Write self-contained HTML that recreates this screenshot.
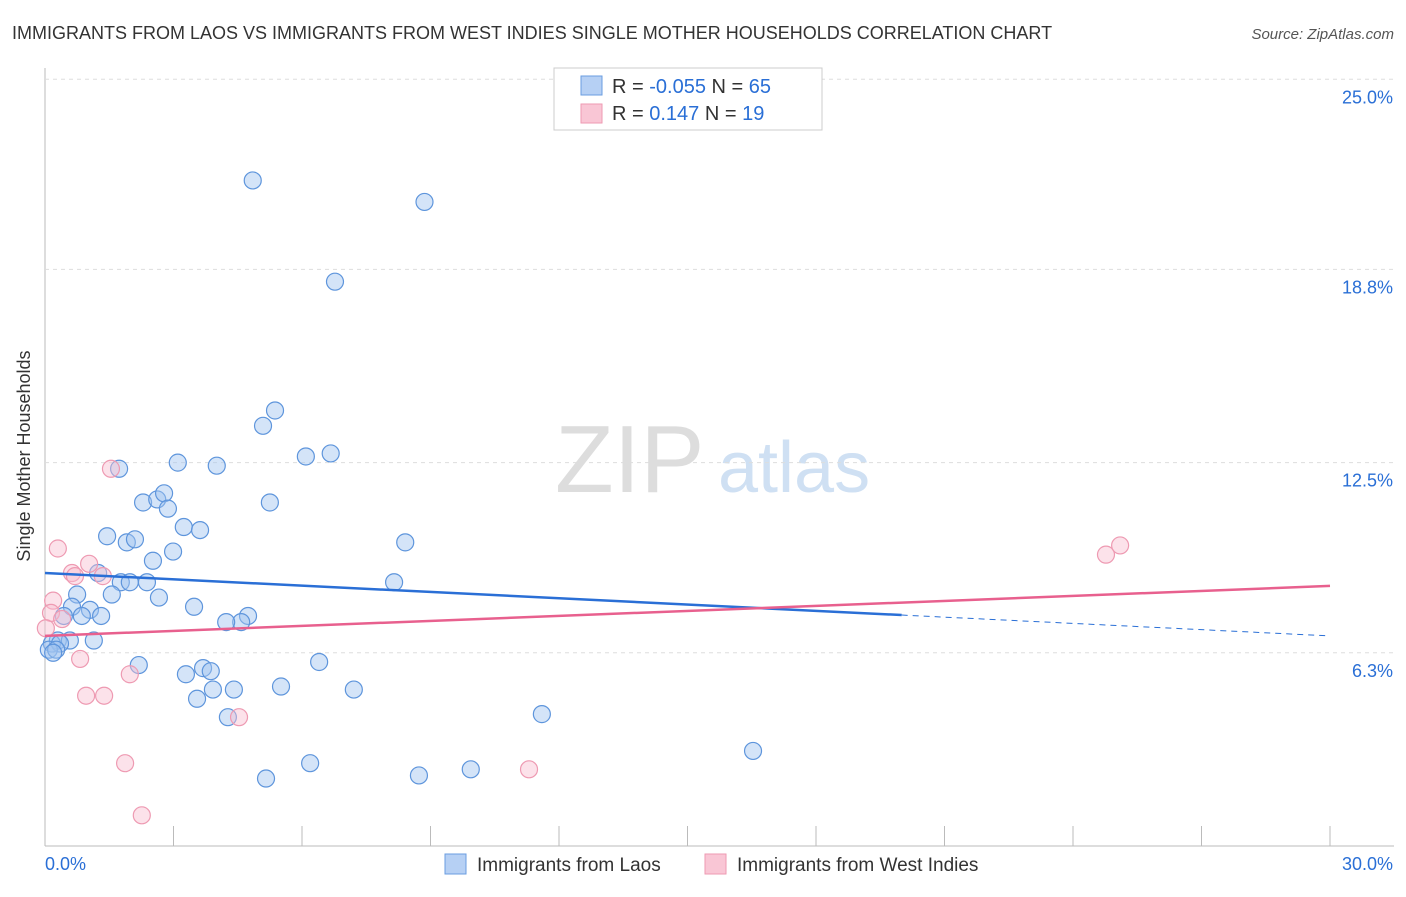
<!DOCTYPE html>
<html><head><meta charset="utf-8"><style>
body{margin:0;background:#fff;font-family:"Liberation Sans",sans-serif}
svg text{font-family:"Liberation Sans",sans-serif}
</style></head><body>
<svg id="chart" width="1406" height="892">
<text x="12" y="39" font-size="18" fill="#333">IMMIGRANTS FROM LAOS VS IMMIGRANTS FROM WEST INDIES SINGLE MOTHER HOUSEHOLDS CORRELATION CHART</text>
<text x="1394" y="39" font-size="15" fill="#555" text-anchor="end" font-style="italic">Source: ZipAtlas.com</text>
<text x="30" y="456" font-size="18" fill="#333" text-anchor="middle" transform="rotate(-90 30 456)">Single Mother Households</text>
<text x="555" y="492" font-size="96" fill="#ddd" font-family="Liberation Serif">ZIP</text>
<text x="718" y="492" font-size="72" fill="#cfe0f3">atlas</text>
<g id="grid"></g><g id="pts"></g><g id="lines"></g>
<g>
<rect x="554" y="68" width="268" height="62" fill="#fff" stroke="#ccc"/>
<rect x="581" y="76" width="21" height="19" fill="#b6d0f4" stroke="#6a9de0"/>
<rect x="581" y="104" width="21" height="19" fill="#f9c6d5" stroke="#ee9ab2"/>
<text x="612" y="93" font-size="20" fill="#333">R = <tspan fill="#2a6fd6">-0.055</tspan>   N = <tspan fill="#2a6fd6">65</tspan></text>
<text x="612" y="120" font-size="20" fill="#333">R =    <tspan fill="#2a6fd6">0.147</tspan>   N =  <tspan fill="#2a6fd6">19</tspan></text>
</g>
<g>
<rect x="445" y="854" width="21" height="20" fill="#b6d0f4" stroke="#6a9de0"/>
<text x="477" y="871" font-size="19" fill="#333">Immigrants from Laos</text>
<rect x="705" y="854" width="21" height="20" fill="#f9c6d5" stroke="#ee9ab2"/>
<text x="737" y="871" font-size="19" fill="#333">Immigrants from West Indies</text>
</g>
</svg>
<script>
const yTicks=[25.0,18.8,12.5,6.3];
const yTickLabels=["25.0%","18.8%","12.5%","6.3%"];
const xTickLabels=["0.0%","30.0%"];
const laosX=[4.85,8.86,6.77,5.37,5.09,6.09,6.67,3.10,4.01,1.73,5.25,2.29,2.62,2.78,2.87,3.24,3.62,1.45,1.91,2.10,8.41,2.99,2.52,1.24,1.77,1.98,2.38,8.15,1.56,2.66,0.75,3.48,1.05,0.63,0.44,1.31,0.86,4.74,4.58,4.23,0.30,0.58,1.14,0.16,0.35,0.09,0.26,0.19,2.19,6.40,3.29,3.69,3.87,5.51,3.92,4.41,7.21,3.55,4.27,11.60,16.53,6.19,5.16,8.73,9.94];
const laosY=[21.7,21.0,18.4,14.2,13.7,12.7,12.8,12.5,12.4,12.3,11.2,11.2,11.3,11.5,11.0,10.4,10.3,10.1,9.9,10.0,9.9,9.6,9.3,8.9,8.6,8.6,8.6,8.6,8.2,8.1,8.2,7.8,7.7,7.8,7.5,7.5,7.5,7.5,7.3,7.3,6.7,6.7,6.7,6.6,6.6,6.4,6.4,6.3,5.9,6.0,5.6,5.8,5.7,5.2,5.1,5.1,5.1,4.8,4.2,4.3,3.1,2.7,2.2,2.3,2.5];
const wiX=[1.54,0.30,1.03,0.63,0.70,1.35,0.19,0.14,0.40,0.02,0.82,1.98,0.96,1.38,4.53,1.87,11.30,2.26,24.77,25.10];
const wiY=[12.3,9.7,9.2,8.9,8.8,8.8,8.0,7.6,7.4,7.1,6.1,5.6,4.9,4.9,4.2,2.7,2.5,1.0,9.5,9.8];
const laosLine=[[0,8.9],[20.0,7.53]];
const laosDash=[[20.0,7.53],[30,6.85]];
const wiLine=[[0,6.85],[30,8.48]];
const X=v=>45+v/30*1285, Y=v=>846-v*30.67;
const NS="http://www.w3.org/2000/svg";
function mk(t,a,p){const e=document.createElementNS(NS,t);for(const k in a)e.setAttribute(k,a[k]);p.appendChild(e);return e;}
const grid=document.getElementById('grid');
mk('line',{x1:45,y1:68,x2:45,y2:846,stroke:'#bbb'},grid);
mk('line',{x1:45,y1:846,x2:1394,y2:846,stroke:'#bbb'},grid);
yTicks.forEach((t,i)=>{
 const l=mk('line',{x1:45,y1:Y(t),x2:1394,y2:Y(t),stroke:'#ddd','stroke-dasharray':'4,4'},grid);
 
 
 const tx=mk('text',{x:1393,y:Y(t)+24,'font-size':18,fill:'#2a6fd6','text-anchor':'end'},grid);
 tx.textContent=yTickLabels[i];
 
 
});
for(let i=1;i<=10;i++){const x=45+i*128.5;mk('line',{x1:x,y1:826,x2:x,y2:846,stroke:'#bbb'},grid);}
[[45,'start'],[1393,'end']].forEach((p,i)=>{
 const tx=mk('text',{x:p[0],y:870,'font-size':18,fill:'#2a6fd6','text-anchor':p[1]},grid);
 tx.textContent=xTickLabels[i];
 
 
});
const pts=document.getElementById('pts');
laosX.forEach((v,i)=>{
 const c=mk('circle',{cx:X(v),cy:Y(laosY[i]),r:8.5,fill:'rgba(160,196,240,0.45)',stroke:'#5e95dc','stroke-width':1.2},pts);
 
 
});
wiX.forEach((v,i)=>{
 const c=mk('circle',{cx:X(v),cy:Y(wiY[i]),r:8.5,fill:'rgba(248,190,208,0.45)',stroke:'#ee9ab2','stroke-width':1.2},pts);
 
 
});
const lines=document.getElementById('lines');
let l=mk('line',{x1:X(laosLine[0][0]),y1:Y(laosLine[0][1]),x2:X(laosLine[1][0]),y2:Y(laosLine[1][1]),stroke:'#2a6fd6','stroke-width':2.5},lines);


l=mk('line',{x1:X(laosDash[0][0]),y1:Y(laosDash[0][1]),x2:X(laosDash[1][0]),y2:Y(laosDash[1][1]),stroke:'#2a6fd6','stroke-width':1,'stroke-dasharray':'6,5'},lines);


l=mk('line',{x1:X(wiLine[0][0]),y1:Y(wiLine[0][1]),x2:X(wiLine[1][0]),y2:Y(wiLine[1][1]),stroke:'#e8608e','stroke-width':2.5},lines);


</script>
</body></html>
